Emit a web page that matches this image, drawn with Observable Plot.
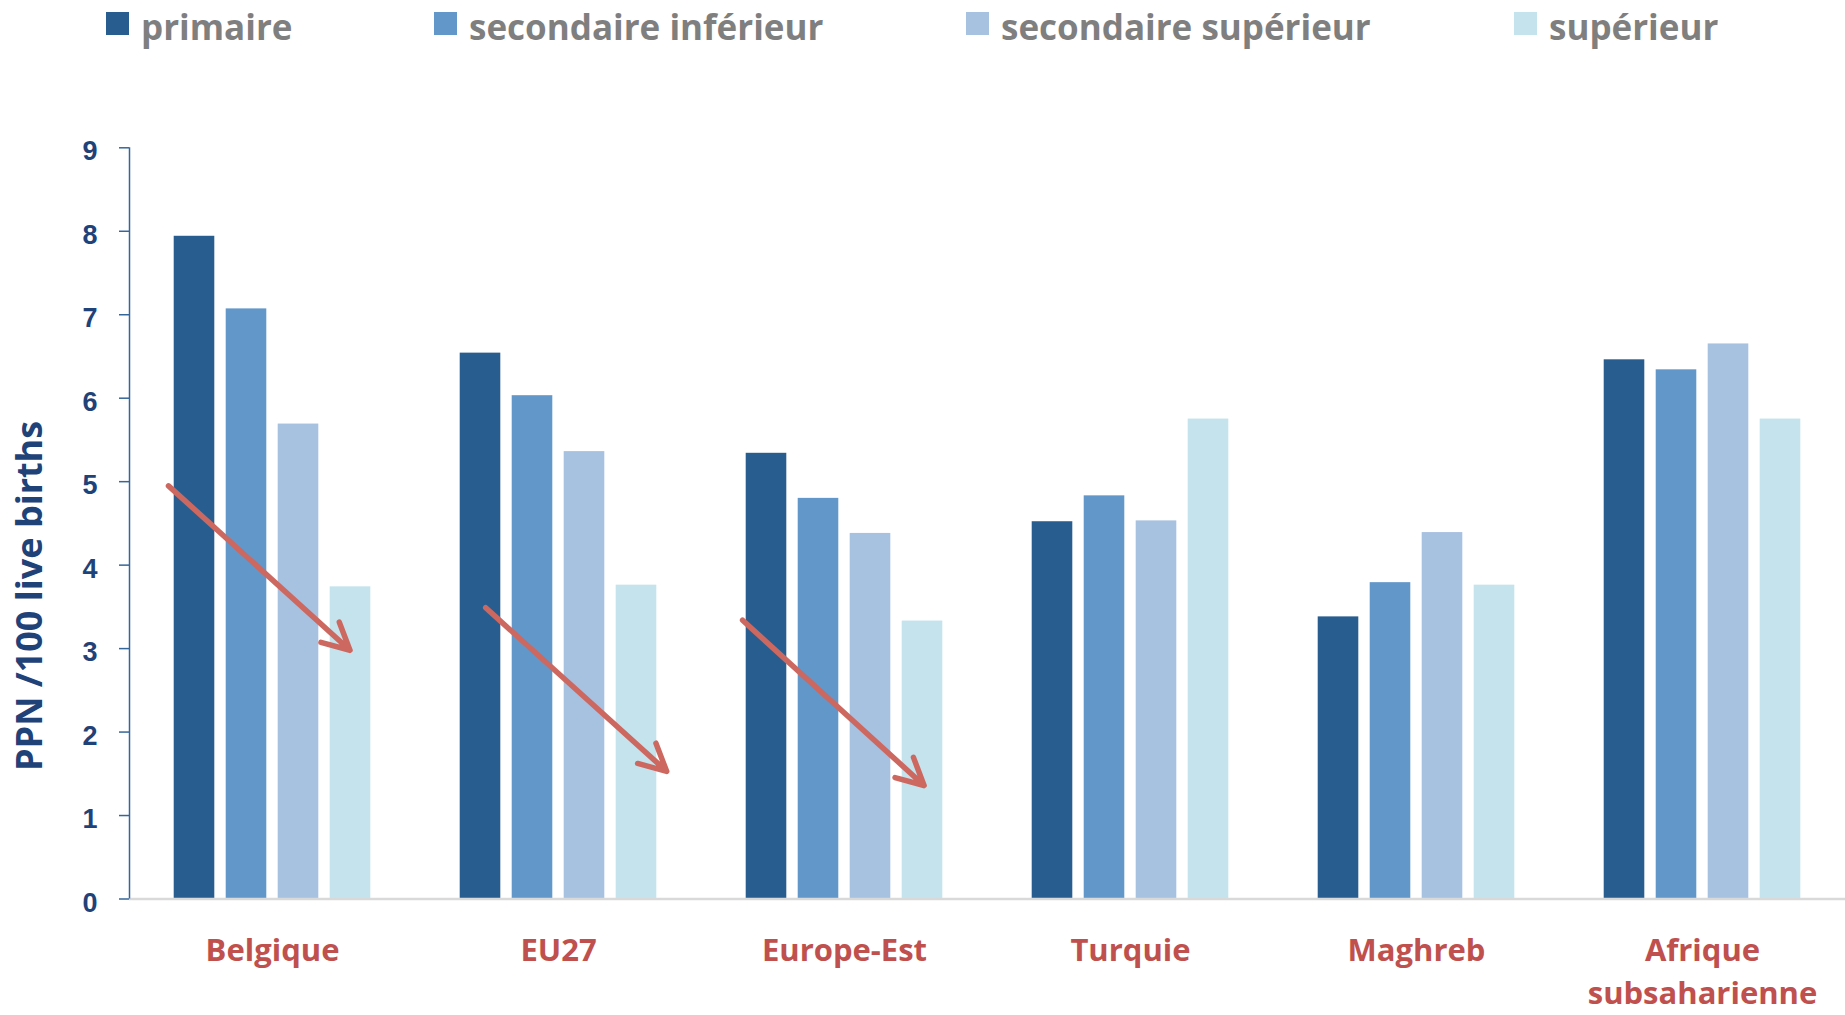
<!DOCTYPE html>
<html>
<head>
<meta charset="utf-8">
<script src="https://cdn.jsdelivr.net/npm/d3@7"></script>
<script src="https://cdn.jsdelivr.net/npm/@observablehq/plot@0.6"></script>
<style>
  html, body { margin: 0; padding: 0; background: #fff; overflow: hidden; }
  #legend { position: relative; width: 1845px; height: 60px; }
  .sw { position: absolute; top: 12px; width: 23px; height: 23px; }
  .lt { position: absolute; top: 9px; font: bold 35px/35px "Open Sans", sans-serif; color: #7f7f7f; white-space: nowrap; }
  #chart svg { display: block; }
</style>
</head>
<body>
<div id="legend"></div>
<div id="chart"></div>
<script>
// ---- data ----
const groups = ["Belgique", "EU27", "Europe-Est", "Turquie", "Maghreb", "Afrique subsaharienne"];
const levels = ["primaire", "secondaire inférieur", "secondaire supérieur", "supérieur"];
const primaire            = [7.94, 6.54, 5.34, 4.52, 3.38, 6.46];
const secondaireInferieur = [7.07, 6.03, 4.80, 4.83, 3.79, 6.34];
const secondaireSuperieur = [5.69, 5.36, 4.38, 4.53, 4.39, 6.65];
const superieur           = [3.74, 3.76, 3.33, 5.75, 3.76, 5.75];
const yTicks = [0, 1, 2, 3, 4, 5, 6, 7, 8, 9];
const yTitle = "PPN /100 live births";
// trend arrows (annotation), in data units: x = bar slot (0..4 across the 4 bars), y = value
const arrowGroups = ["Belgique", "EU27", "Europe-Est"];
const arrowX1 = [0.0, 0.60, 0.04];
const arrowX2 = [3.49, 4.08, 3.53];
const arrowY1 = [4.95, 3.49, 3.34];
const arrowY2 = [2.98, 1.53, 1.36];

// ---- styles / layout ----
const colors = ["#285e8f", "#6197c9", "#a7c1e0", "#c4e3ed"];
const legendLeft = [106, 434, 966, 1514];
const legendGap = 35;
const xDomain = [-0.75, 4.75];
const axisBlue = "#356699";
const navy = "#1f4278";

// legend
const legend = document.getElementById("legend");
levels.forEach((lvl, i) => {
  const sw = document.createElement("div");
  sw.className = "sw";
  sw.style.left = legendLeft[i] + "px";
  sw.style.background = colors[i];
  legend.appendChild(sw);
  const t = document.createElement("div");
  t.className = "lt";
  t.style.left = (legendLeft[i] + legendGap) + "px";
  t.textContent = lvl;
  legend.appendChild(t);
});

// table
const series = [primaire, secondaireInferieur, secondaireSuperieur, superieur];
const rows = [];
levels.forEach((lvl, i) => groups.forEach((g, j) => rows.push({group: g, level: lvl, slot: i, value: series[i][j]})));
const arrows = arrowGroups.map((g, i) => ({group: g, x1: arrowX1[i], x2: arrowX2[i], y1: arrowY1[i], y2: arrowY2[i]}));

const chart = Plot.plot({
  width: 1845,
  height: 955,
  marginTop: 87.3,
  marginBottom: 116.5,
  marginLeft: 128,
  marginRight: 0,
  style: {fontFamily: "'Open Sans', sans-serif", background: "#fff", overflow: "visible"},
  fx: {domain: groups, padding: 0},
  x: {domain: xDomain, axis: null},
  y: {domain: [0, 9]},
  color: {domain: levels, range: colors},
  marks: [
    Plot.rect(rows, {fx: "group", x1: "slot", x2: d => d.slot + 1, y1: 0, y2: "value", fill: "level", insetLeft: 5.7, insetRight: 5.7}),
    Plot.ruleY([0], {stroke: "#d9d9d9", strokeWidth: 2.5}),
    Plot.ruleX([{group: groups[0]}], {fx: "group", x: () => xDomain[0], y1: 0, y2: 9, stroke: axisBlue, strokeWidth: 1.5}),
    Plot.axisY({ticks: yTicks, tickSize: 10, tickFormat: () => "", stroke: axisBlue, strokeWidth: 1.5, label: null}),
    Plot.axisY({ticks: yTicks, tickSize: 0, tickPadding: 32, dy: 4, fill: navy,
      fontSize: 27, fontWeight: "bold", fontFamily: "'Liberation Sans', Arial, sans-serif", label: null, tickFormat: d => String(d)}),
    Plot.axisFx({anchor: "bottom", tickSize: 0, tickPadding: 31, fontSize: 31, fontWeight: "bold", fill: "#c0504d",
      lineHeight: 1.4, label: null, tickFormat: d => d.replace(" ", "\n")}),
    Plot.arrow(arrows, {fx: "group", x1: "x1", y1: "y1", x2: "x2", y2: "y2", stroke: "#cd6860", strokeWidth: 5.5,
      headLength: 8.2, headAngle: 54, strokeLinecap: "round", strokeLinejoin: "round"}),
    Plot.text([{group: groups[0], t: yTitle}], {fx: "group", text: "t", frameAnchor: "left", rotate: -90, dx: -99.5, dy: 247.6,
      fontSize: 36, fontWeight: "bold", fill: navy})
  ]
});
document.getElementById("chart").appendChild(chart);
</script>
</body>
</html>
